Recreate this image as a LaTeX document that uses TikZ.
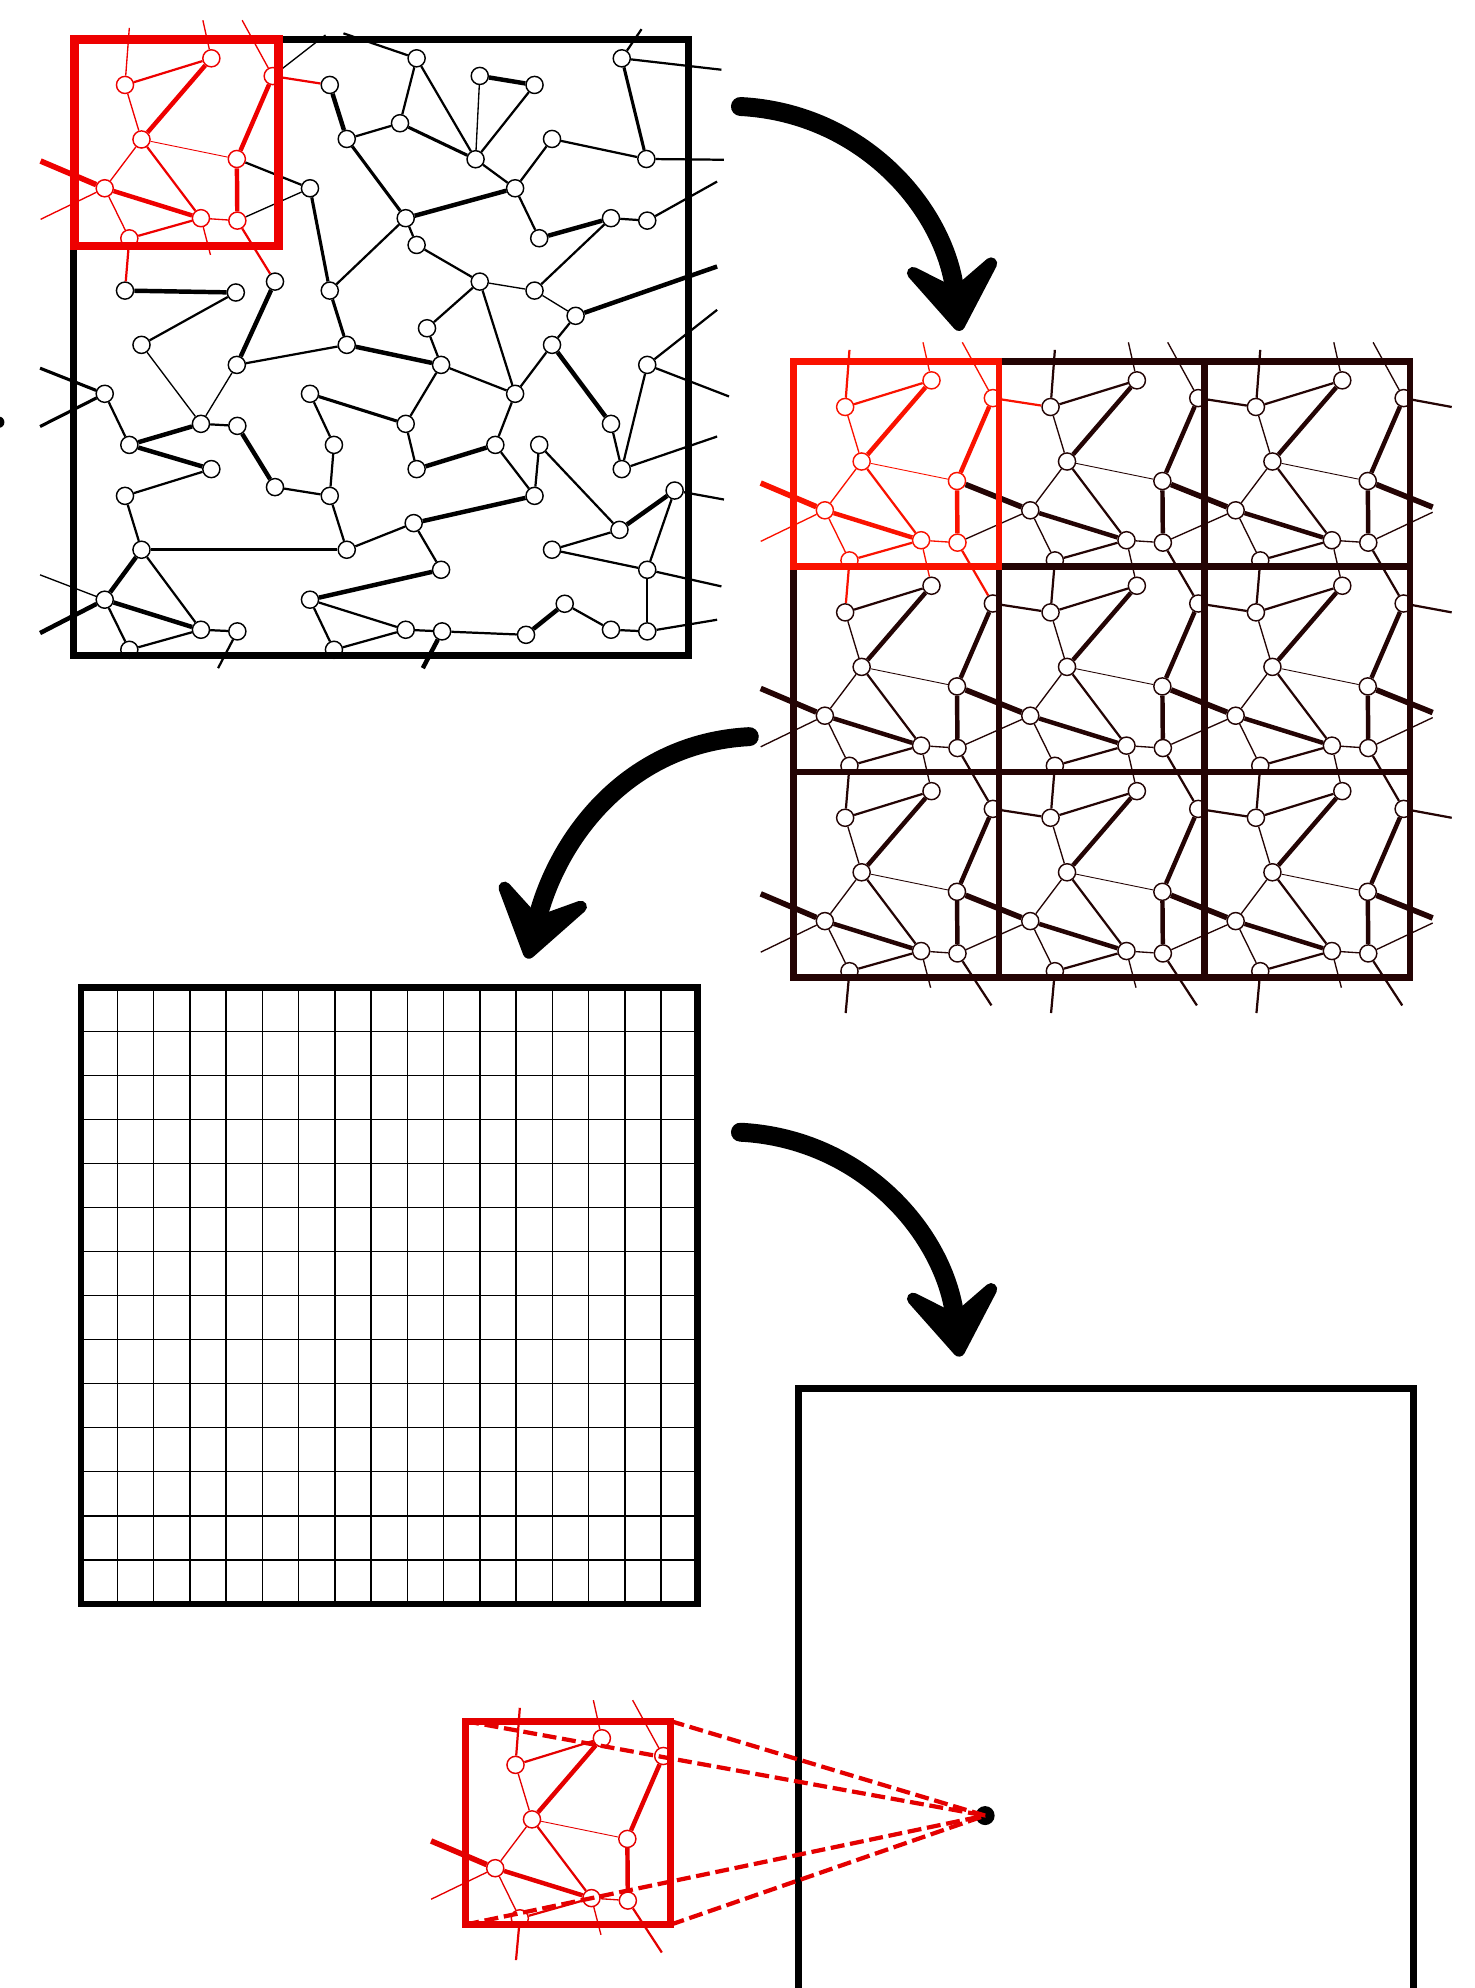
\documentclass[tikz,border=0pt]{standalone}
\usetikzlibrary{arrows.meta}
\definecolor{netred}{RGB}{238,0,0}
\definecolor{cellred}{RGB}{250,18,0}
\definecolor{rvered}{RGB}{228,0,0}
\definecolor{cellbrown}{RGB}{36,4,4}

\tikzset{
  vtx/.style={circle, draw, fill=white, inner sep=0pt, minimum size=2.7mm, line width=0.65pt},
  whair/.style={line width=0.4pt},
  wthin/.style={line width=0.6pt},
  wmid/.style={line width=1pt},
  wsemi/.style={line width=1.4pt},
  wthick/.style={line width=2pt},
  wheavy/.style={line width=2.5pt},
  frame/.style={line width=3pt},
  gridline/.style={line width=0.6pt},
  bigarrow/.style={line width=8.5pt, line cap=round, -{Stealth[length=14.2mm, width=19.5mm, inset=6.5mm, round]}},
  sightline/.style={rvered, line width=1.9pt, dash pattern=on 2.2mm off 0.9mm},
}

% one periodic cell: #1 origin, #2 colour, #3 name prefix
\newcommand{\netcell}[3]{%
  \begin{scope}[shift={#1}, color=#2]
    \foreach \n/\x/\y in {a/40.6/36, b/108.7/15, c/157.1/29, d/53.6/79, e/128.8/94.4,
                          f/24.6/117.5, g/100.5/141.1, h/129.2/143, i/44/157}
      \node[vtx] (#3-\n) at (\x,\y) {};
    % loose ends
    \foreach \n/\x/\y in {ua/44/-9, ub/102/-15, uc/133/-15, lf/-26/96, lh/-26/142,
                          dg/108/170, dh/156/184, di/41/190, rc/195/36, re/180/115, rh/180/119}
      \coordinate (#3-\n) at (\x,\y);
  \end{scope}
  \begin{scope}[color=#2]
    \foreach \p/\q in {a/b, d/g, g/i}
      \draw[wmid] (#3-\p) -- (#3-\q);
    \foreach \p/\q in {b/d, c/e, e/h, f/g}
      \draw[wthick] (#3-\p) -- (#3-\q);
    \foreach \p/\q in {a/d, d/f, f/i, g/h}
      \draw[wthin] (#3-\p) -- (#3-\q);
    \draw[whair] (#3-d) -- (#3-e);
  \end{scope}
}

\begin{document}
\begin{tikzpicture}[x=0.2mm, y=-0.2mm]
  \useasboundingbox (0,0) rectangle (1163,1568);
  \clip (0,0) rectangle (1163,1568);

  %% random network with the selected window
  \netcell{(58,31)}{netred}{r}
  \foreach \n/\x/\y in {J/260.1/67, K/328.6/46, L/378.4/59.9, M/421.6/67, N/490.4/46,
      O/273.5/109.6, P/315.5/97.2, Q/375.1/125.6, R/435.4/109.6, S/509.8/125.4,
      T/244.5/148.5, U/406.3/148.5, V/320/172.1, W/328.6/193.2, X/425.3/187.9,
      Y/481.9/172.1, Z/510.5/174, AA/98.6/229.2, AB/186/230.7, AC/216.9/222.1,
      AD/260.1/229.2, AE/378.4/222.1, AF/421.6/229.2, AG/454/249.1, AH/336.8/258.9,
      BA/111.6/272, BB/186.8/287.8, BC/273.5/272, BD/435.4/272, BE/510.5/287.8,
      BF/82.6/310.6, BG/158.5/334.3, BH/187.2/335.9, BI/102/350.9, BJ/166.7/370,
      BK/244.5/310.6, BL/320/334.3, BM/263.4/350.9, BN/328.6/370, BO/347.9/287.8,
      BP/406.3/310.6, BQ/390.7/350.9, BR/425.3/350.9, BS/481.9/334.3, BT/490.4/370,
      BU/98.6/391.1, BV/216.9/384.2, BW/260.1/391.1, BX/421.6/391.1, BY/532.1/386.9,
      BZ/111.6/433.6, CA/273.5/433.6, CB/326.3/412.6, CC/435.4/433.6, CD/488.6/417.9,
      CE/347.9/449.4, CF/510.5/449.4, CG/82.6/473, CH/158.5/496.7, CI/187.2/498,
      CJ/102/512.5, CK/244.5/473, CL/320/496.7, CM/348.7/498, CN/263.4/512.5,
      CO/414.9/500.7, CP/445.4/476.2, CQ/481.9/496.7, CR/510.5/498}
    \node[vtx] (\n) at (\x,\y) {};

  \foreach \a/\b in {J/O, L/M, U/V, X/Y, AA/AB, AC/BB, BC/BO, BD/BS, BI/BG, BH/BV,
      BI/BJ, BN/BQ, CD/BY, CP/CO, CK/CE, CB/BX, BZ/CG, CG/CH}
    \draw[wthick] (\a) -- (\b);
  \foreach \a/\b in {N/S, P/Q, O/V, T/AD, AD/BC, BZ/CA, BK/BL}
    \draw[wsemi] (\a) -- (\b);
  \foreach \a/\b in {K/P, K/Q, M/Q, O/P, Q/U, R/U, R/S, U/X, V/W, V/AD, W/AE, Y/Z,
      Y/AF, AB/BA, AE/AH, AE/BP, AG/BD, AH/BO, BB/BC, BO/BP, BO/BL, BP/BD, BP/BQ,
      BE/BT, BS/BT, BF/BI, BG/BH, BJ/BU, BU/BZ, BV/BW, BW/BM, BM/BK, BL/BN, BQ/BX,
      BR/BX, BR/CD, BY/CF, CC/CD, CC/CF, CF/CR, CR/CQ, CQ/CP, CO/CM, CM/CL, CL/CK,
      CK/CN, CN/CL, CE/CB, CB/CA, CA/BW, BZ/CH, CG/CJ, CH/CI, CJ/CH, r-e/T}
    \draw[wmid] (\a) -- (\b);
  \foreach \a/\b in {L/Q, AE/AF, AF/AG, BA/BG, BB/BG, r-h/T}
    \draw[wthin] (\a) -- (\b);

  % edges leaving the sample
  \foreach \n/\k/\x/\y in {K/1/270.9/26.3, N/1/506/23, N/2/569/55, S/1/571/126,
      Z/1/565.6/143.2, BE/1/565.6/244.4, BE/2/575/312.7, BT/1/565.6/344.3,
      BY/1/571/394, CF/1/569/462.5, CR/1/565.6/488.8, CI/1/172/527} {
    \coordinate (\n-o\k) at (\x,\y);
    \draw[wmid] (\n) -- (\n-o\k);
  }
  \foreach \n/\k/\x/\y in {r-c/1/256.7/27.6, CG/1/31.6/453.4} {
    \coordinate (\n-o\k) at (\x,\y);
    \draw[wthin] (\n) -- (\n-o\k);
  }
  \foreach \n/\k/\x/\y in {BF/1/31.6/290.4, BF/2/31.6/336.4} {
    \coordinate (\n-o\k) at (\x,\y);
    \draw[wsemi] (\n) -- (\n-o\k);
  }
  \foreach \n/\k/\x/\y in {AG/1/565.6/210.2, CG/2/31.6/499.3, CM/1/333.5/527} {
    \coordinate (\n-o\k) at (\x,\y);
    \draw[wthick] (\n) -- (\n-o\k);
  }

  \begin{scope}[color=netred]
    \draw[wmid] (r-c) -- (J);
    \draw[wmid] (r-h) -- (AC);
    \draw[wmid] (r-i) -- (AA);
    \draw[wthin] (r-a) -- (r-ua);
    \draw[wthin] (r-b) -- (r-ub);
    \draw[wthin] (r-c) -- (r-uc);
    \draw[wheavy] (r-f) -- (r-lf);
    \draw[wthin] (r-f) -- (r-lh);
    \draw[wthin] (r-g) -- (r-dg);
  \end{scope}

  \draw[frame] (58,31) rectangle (543,517);
  \draw[netred, line width=4pt] (58.6,31.3) rectangle (219.5,194);
  \fill (-1,333) circle (4.5);

  %% periodic copies of the window
  \foreach \i/\j in {1/0, 2/0, 0/1, 1/1, 2/1, 0/2, 1/2, 2/2}
    {\netcell{(626+162*\i,285+162*\j)}{cellbrown}{t\i\j}}
  \netcell{(626,285)}{cellred}{t00}

  \begin{scope}[color=cellbrown]
    \foreach \i/\k/\j in {1/2/0, 0/1/1, 1/2/1, 0/1/2, 1/2/2}
      \draw[wmid] (t\i\j-c) -- (t\k\j-a);
    \foreach \i/\k/\j in {0/1/0, 1/2/0, 0/1/1, 1/2/1, 0/1/2, 1/2/2} {
      \draw[wheavy] (t\k\j-f) -- (t\i\j-e);
      \draw[wthin] (t\k\j-f) -- (t\i\j-h);
    }
    \foreach \i/\j/\k in {1/0/1, 2/0/1, 0/1/2, 1/1/2, 2/1/2} {
      \draw[wmid] (t\i\j-h) -- (t\i\k-c);
      \draw[wmid] (t\i\j-i) -- (t\i\k-a);
      \draw[wthin] (t\i\j-g) -- (t\i\k-b);
    }
    % loose ends round the block
    \foreach \i in {1,2} {
      \draw[wmid] (t\i0-a) -- (t\i0-ua);
      \draw[wthin] (t\i0-b) -- (t\i0-ub);
      \draw[wthin] (t\i0-c) -- (t\i0-uc);
    }
    \foreach \j in {0,1,2} {
      \draw[wmid] (t2\j-c) -- (t2\j-rc);
      \draw[wheavy] (t2\j-e) -- (t2\j-re);
      \draw[wthin] (t2\j-h) -- (t2\j-rh);
    }
    \foreach \i in {0,1,2} {
      \draw[wmid] (t\i2-h) -- (t\i2-dh);
      \draw[wmid] (t\i2-i) -- (t\i2-di);
      \draw[wthin] (t\i2-g) -- (t\i2-dg);
    }
    \foreach \j in {1,2} {
      \draw[wheavy] (t0\j-f) -- (t0\j-lf);
      \draw[wthin] (t0\j-f) -- (t0\j-lh);
    }
  \end{scope}
  \begin{scope}[color=cellred]
    \draw[wmid] (t00-c) -- (t10-a);
    \draw[wmid] (t00-h) -- (t01-c);
    \draw[wmid] (t00-i) -- (t01-a);
    \draw[wthin] (t00-g) -- (t01-b);
    \draw[wmid] (t00-a) -- (t00-ua);
    \draw[wthin] (t00-b) -- (t00-ub);
    \draw[wthin] (t00-c) -- (t00-uc);
    \draw[wheavy] (t00-f) -- (t00-lf);
    \draw[wthin] (t00-f) -- (t00-lh);
  \end{scope}

  \draw[frame, cellbrown] (626,285) rectangle (1112,771);
  \foreach \k in {1,2} {
    \draw[frame, cellbrown] (626+162*\k,285) -- (626+162*\k,771);
    \draw[frame, cellbrown] (626,285+162*\k) -- (1112,285+162*\k);
  }
  \draw[frame, cellred] (626,285) rectangle (788,447);

  %% discretised continuum
  \foreach \k in {1,...,16}
    \draw[gridline] ({64+\k*486/17},779) -- ({64+\k*486/17},1265);
  \foreach \k in {1,...,13}
    \draw[gridline] (64,{779+\k*486/14}) -- (550,{779+\k*486/14});
  \draw[frame] (64,779) rectangle (550,1265);

  %% macroscopic body and its material point
  \draw[frame] (630,1590) -- (630,1095) -- (1115,1095) -- (1115,1590);
  \netcell{(366,1356)}{rvered}{m}
  \begin{scope}[color=rvered]
    \draw[wmid] (m-a) -- (m-ua);
    \draw[wthin] (m-b) -- (m-ub);
    \draw[wthin] (m-c) -- (m-uc);
    \draw[wheavy] (m-f) -- (m-lf);
    \draw[wthin] (m-f) -- (m-lh);
    \draw[wthin] (m-g) -- (m-dg);
    \draw[wmid] (m-h) -- (m-dh);
    \draw[wmid] (m-i) -- (m-di);
  \end{scope}
  \coordinate (rve-nw) at (367,1357.5);
  \coordinate (rve-ne) at (529,1357.5);
  \coordinate (rve-sw) at (367,1518);
  \coordinate (rve-se) at (529,1518);
  \draw[frame, rvered, line width=3.2pt] (rve-nw) rectangle (rve-se);
  \node[circle, fill=black, inner sep=0pt, minimum size=3mm] (mp) at (777,1432) {};
  \foreach \c in {nw,ne,sw,se}
    \draw[sightline] (rve-\c) -- (mp.center);

  %% arrows between the stages
  \coordinate (s1) at (584,84);   \coordinate (e1) at (757,261);
  \coordinate (s2) at (591,581);  \coordinate (e2) at (416,756);
  \coordinate (s3) at (584,893);  \coordinate (e3) at (757,1070);
  \draw[bigarrow] (s1) to[out=-3, in=97] (e1);
  \draw[bigarrow] (s2) to[out=183, in=76] (e2);
  \draw[bigarrow] (s3) to[out=-3, in=97] (e3);
\end{tikzpicture}
\end{document}
